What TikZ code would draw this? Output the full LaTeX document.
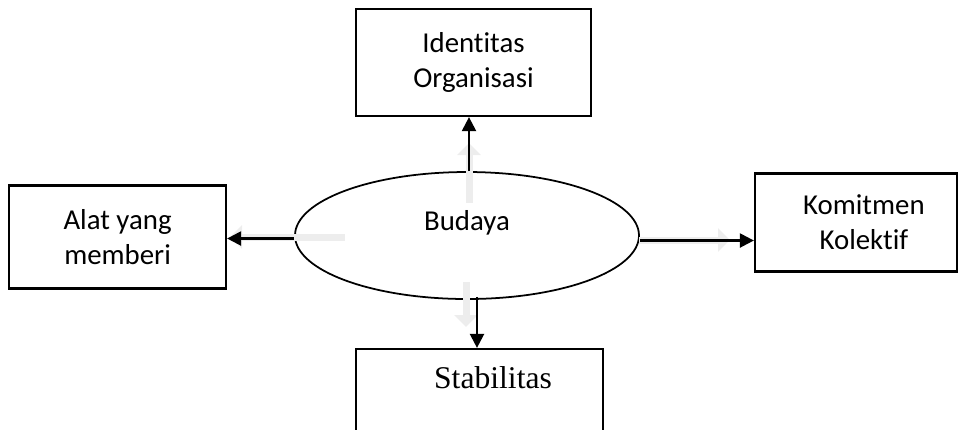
\documentclass[tikz,border=0pt]{standalone}
\usepackage{fontspec}
\setmainfont{Carlito}[Ligatures={NoCommon}]
\newfontfamily\timesfont{Liberation Serif}
\usepackage{tikz}
\usetikzlibrary{positioning, arrows.meta, shapes.geometric}

\begin{document}
\begin{tikzpicture}[
    box/.style={draw, line width=0.6pt, align=center, inner sep=0pt},
    conn/.style={line width=0.65pt, -{Triangle[length=1.4mm, width=1.4mm]}},
    ghost/.style={draw=black!7, line width=0.07cm, -{Triangle[length=1.2mm, width=2.3mm]}},
    font=\fontsize{8.2}{10}\selectfont]
            \useasboundingbox (0,0) rectangle (9.61,-4.29);
            \clip (0,0) rectangle (9.61,-4.29);
              \node [draw, ellipse, line width=0.5pt, minimum width=3.44cm, minimum height=1.27cm, inner sep=0pt] (bud) at (4.67,-2.355) {};
              \node (budtxt) at (4.67,-2.23) {Budaya};
              \node [box, above=0.54cm of bud, xshift=0.65mm, minimum width=2.35cm, minimum height=1.07cm] (org) {Identitas\\Organisasi};
              \node [box, left=0.67cm of bud, yshift=-0.15mm, minimum width=2.17cm, minimum height=1.03cm] (alat) {Alat yang\\memberi};
              \node [box, right=1.14cm of bud, yshift=1.3mm, minimum width=2.02cm, minimum height=0.98cm, text width=2.02cm] (kom) {\hspace*{1.6mm}Komitmen\\\hspace*{1.6mm}Kolektif};
              \node [box, below=0.48cm of bud, xshift=1.25mm, minimum width=2.47cm, minimum height=1.0cm] (stab) {};
              \node [anchor=base, font=\timesfont\fontsize{9}{11}\selectfont] (stabtxt) at ([xshift=1.35mm, yshift=-4.1mm]stab.north) {Stabilitas};
              % faint shadows behind the arrows
              \draw [ghost] (4.69,-2.03) -- (4.69,-1.43);
              \draw [ghost] (3.45,-2.37) -- (2.30,-2.37);
              \draw [ghost] (6.39,-2.40) -- (7.30,-2.40);
              \draw [ghost] (4.66,-2.82) -- (4.66,-3.27);
              % arrows
              \draw [conn] ([xshift=0.2mm]bud.north) -- ([xshift=0.2mm]bud.north |- org.south);
              \draw [conn] ([yshift=-0.3mm]bud.west) -- ([yshift=-0.3mm]bud.west -| alat.east);
              \draw [conn] ([yshift=-0.5mm]bud.east) -- ([yshift=-0.5mm]bud.east -| kom.west);
              \draw [conn] ([xshift=1mm, yshift=0.3mm]bud.south) -- ([xshift=1mm]bud.south |- stab.north);
\end{tikzpicture}
\end{document}
